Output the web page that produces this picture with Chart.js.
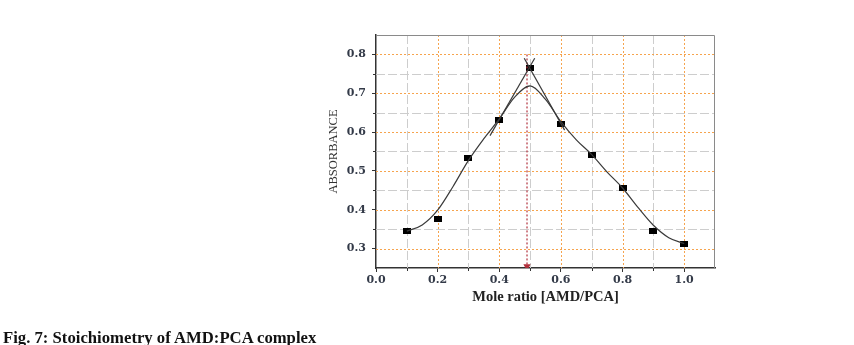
<!DOCTYPE html>
<html>
<head>
<meta charset="utf-8">
<script src="https://cdn.jsdelivr.net/npm/chart.js@4"></script>
<style>
  body { margin: 0; background: #fff; }
  #wrap { position: relative; width: 854px; height: 345px; }
  #caption { position: absolute; left: 3px; top: 328px; font: bold 16.7px "Liberation Serif", serif; color: #111; white-space: nowrap; }
</style>
</head>
<body>
<div id="wrap">
  <canvas id="stoich" width="854" height="345"></canvas>
  <div id="caption">Fig. 7: Stoichiometry of AMD:PCA complex</div>
</div>
<script>
// measured absorbance vs mole ratio
const moleRatio = [0.1, 0.2, 0.3, 0.4, 0.5, 0.6, 0.7, 0.8, 0.9, 1.0];
const absorbance = [0.345, 0.377, 0.534, 0.631, 0.765, 0.621, 0.542, 0.456, 0.345, 0.312];

// smoothed fit curve
const fitX = [0.10, 0.15, 0.20, 0.25, 0.30, 0.35, 0.40, 0.45, 0.50, 0.55, 0.60, 0.65, 0.70, 0.75, 0.80, 0.85, 0.90, 0.95, 1.00];
const fitY = [0.345, 0.361, 0.399, 0.460, 0.527, 0.583, 0.634, 0.690, 0.719, 0.684, 0.627, 0.580, 0.542, 0.497, 0.456, 0.406, 0.360, 0.328, 0.313];

// tangent lines and the intersection marker
const riseX = [0.37, 0.515];
const riseY = [0.591, 0.79];
const fallX = [0.481, 0.612];
const fallY = [0.79, 0.605];
const markX = [0.49, 0.49];
const markY = [0.80, 0.254];

const xTicks = [0, 0.2, 0.4, 0.6, 0.8, 1.0];
const xMinor = [0.1, 0.3, 0.5, 0.7, 0.9];
const yTicks = [0.3, 0.4, 0.5, 0.6, 0.7, 0.8];
const yMinor = [0.35, 0.45, 0.55, 0.65, 0.75];

const toPts = (xs, ys) => xs.map((v, i) => ({ x: v, y: ys[i] }));

// little black block used for the measured points
const marker = document.createElement('canvas');
marker.width = 8;
marker.height = 6;
const mctx = marker.getContext('2d');
mctx.fillStyle = '#000';
mctx.fillRect(0, 0, 8, 6);

const gridPlugin = {
    id: 'dualGrid',
    beforeDatasetsDraw: function (chart) {
        const ctx = chart.ctx;
        const a = chart.chartArea;
        const x = chart.scales.x;
        const y = chart.scales.y;
        const vline = (v) => {
            const px = Math.round(x.getPixelForValue(v)) + 0.5;
            ctx.beginPath(); ctx.moveTo(px, a.top); ctx.lineTo(px, a.bottom); ctx.stroke();
        };
        const hline = (v) => {
            const py = Math.round(y.getPixelForValue(v)) + 0.5;
            ctx.beginPath(); ctx.moveTo(a.left, py); ctx.lineTo(a.right, py); ctx.stroke();
        };
        ctx.save();
        ctx.lineWidth = 1;

        ctx.strokeStyle = '#cdcdcd';
        ctx.setLineDash([9, 3]);
        xMinor.forEach(vline);
        yMinor.forEach(hline);

        ctx.strokeStyle = '#f6a44e';
        ctx.setLineDash([2, 2]);
        xTicks.filter(v => v > 0).forEach(vline);
        yTicks.forEach(hline);

        // frame on top and right
        ctx.setLineDash([]);
        ctx.strokeStyle = '#8a8a8a';
        ctx.beginPath();
        ctx.moveTo(a.left, a.top + 0.5);
        ctx.lineTo(a.right - 0.5, a.top + 0.5);
        ctx.lineTo(a.right - 0.5, a.bottom);
        ctx.stroke();

        // minor ticks outside the axes
        ctx.strokeStyle = '#333';
        xMinor.forEach(v => {
            const px = Math.round(x.getPixelForValue(v)) + 0.5;
            ctx.beginPath(); ctx.moveTo(px, a.bottom); ctx.lineTo(px, a.bottom + 3); ctx.stroke();
        });
        yMinor.forEach(v => {
            const py = Math.round(y.getPixelForValue(v)) + 0.5;
            ctx.beginPath(); ctx.moveTo(a.left, py); ctx.lineTo(a.left - 3, py); ctx.stroke();
        });
        ctx.restore();
    }
};

const tickFont = { family: '"DejaVu Serif", serif', size: 11, weight: 'bold' };

const ctx = document.getElementById('stoich').getContext('2d');
const chart = new Chart(ctx, {
    type: 'scatter',
    data: {
        datasets: [{
            data: toPts(fitX, fitY),
            showLine: true,
            borderColor: '#3a3a3a',
            borderWidth: 1.2,
            cubicInterpolationMode: 'monotone',
            pointRadius: 0
        }, {
            data: toPts(riseX, riseY),
            showLine: true,
            borderColor: '#3a3a3a',
            borderWidth: 1.2,
            pointRadius: 0
        }, {
            data: toPts(fallX, fallY),
            showLine: true,
            borderColor: '#3a3a3a',
            borderWidth: 1.2,
            pointRadius: 0
        }, {
            data: toPts(markX, markY),
            showLine: true,
            borderColor: '#b2303c',
            borderWidth: 1.2,
            borderDash: [2, 2],
            pointStyle: 'triangle',
            pointRotation: [0, 180],
            pointRadius: [0, 3],
            pointBackgroundColor: '#b2303c',
            pointBorderColor: '#b2303c'
        }, {
            data: toPts(moleRatio, absorbance),
            showLine: false,
            pointStyle: marker
        }]
    },
    options: {
        responsive: false,
        animation: false,
        layout: { padding: { left: 326, right: 139, top: 35, bottom: 39 } },
        plugins: {
            legend: { display: false },
            tooltip: { enabled: false }
        },
        scales: {
            x: {
                type: 'linear',
                min: 0,
                max: 1.1,
                afterBuildTicks: (s) => { s.ticks = xTicks.map(v => ({ value: v })); },
                afterFit: (s) => { s.height = 38; },
                grid: { drawOnChartArea: false, drawTicks: true, tickLength: 4, tickColor: '#333' },
                border: { color: '#333', width: 1.5 },
                ticks: {
                    padding: 2,
                    color: '#333a48',
                    font: tickFont,
                    callback: (v) => v.toFixed(1)
                },
                title: {
                    display: true,
                    text: 'Mole ratio [AMD/PCA]',
                    color: '#222',
                    padding: 0,
                    font: { family: '"Liberation Serif", serif', size: 14.5, weight: 'bold' }
                }
            },
            y: {
                type: 'linear',
                min: 0.25,
                max: 0.85,
                afterBuildTicks: (s) => { s.ticks = yTicks.map(v => ({ value: v })); },
                afterFit: (s) => { s.width = 50; },
                grid: { drawOnChartArea: false, drawTicks: true, tickLength: 4, tickColor: '#333' },
                border: { color: '#333', width: 1.5 },
                ticks: {
                    padding: 6,
                    color: '#333a48',
                    font: tickFont,
                    callback: (v) => v.toFixed(1)
                },
                title: {
                    display: true,
                    text: 'ABSORBANCE',
                    color: '#333',
                    padding: 0,
                    font: { family: '"Liberation Serif", serif', size: 12.5 }
                }
            }
        }
    },
    plugins: [gridPlugin]
});
</script>
</body>
</html>
